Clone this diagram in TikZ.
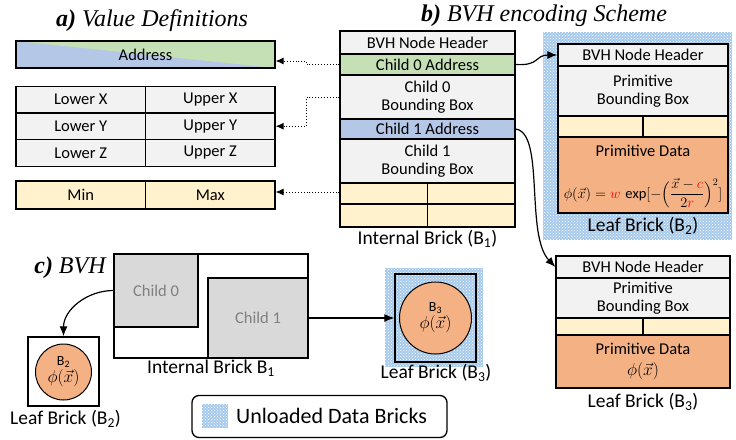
\documentclass[tikz,border=0pt]{standalone}
\usepackage{amsmath}
\usepackage{fontspec}
\setmainfont{Carlito}
\newfontfamily\titlefont{Liberation Serif}
\usetikzlibrary{patterns,arrows.meta}
\definecolor{cgray}{HTML}{F2F2F2}
\definecolor{cgreen}{HTML}{C5E0B4}
\definecolor{cblue}{HTML}{B4C7E7}
\definecolor{cyellow}{HTML}{FFF2CC}
\definecolor{corange}{HTML}{F4B183}
\definecolor{cdark}{HTML}{D9D9D9}
\definecolor{chatch}{HTML}{A7CAEC}
\begin{document}
\begin{tikzpicture}[x=1pt,y=-1pt,
  cell/.style={draw, line width=1.3pt, inner sep=0pt, align=center, font=\fontsize{16.5}{17.5}\selectfont},
  lbl/.style={inner sep=0pt, font=\fontsize{19.5}{20}\selectfont},
  ttl/.style={inner sep=0pt, font=\titlefont\itshape\fontsize{24}{25}\selectfont},
  hatchbg/.style={fill=chatch, postaction={pattern=crosshatch dots, pattern color=white}},
  dotarrow/.style={dotted, line width=0.9pt, -{Latex[length=8pt,width=7pt]}},
  solarrow/.style={line width=1.2pt, -{Latex[length=10pt,width=8pt]}},
  circ/.style={circle, draw, line width=1pt, fill=corange, inner sep=0pt, align=center}
]
\useasboundingbox (0,0) rectangle (736,439);

% ---------- titles
\node[ttl] (ta) at (152,21) {\textbf{a)} Value Definitions};
\node[ttl] (tb) at (544,16) {\textbf{b)} BVH encoding Scheme};
\node[ttl] (tc) at (70,268) {\textbf{c)} BVH};

% ---------- a) value definitions
\fill[cblue] (16,41) rectangle (275,68);
\fill[cgreen] (16,41) -- (275,41) -- (275,68) -- cycle;
\node[cell, minimum width=259pt, minimum height=27pt] (addr) at (145.5,54.5) {Address};

\node[cell, fill=cgray, minimum width=129.5pt, minimum height=26.7pt] (lx) at (80.75,99.5) {Lower X};
\node[cell, fill=cgray, minimum width=129.5pt, minimum height=26.7pt] (ux) at (210.25,99.5) {Upper X};
\node[cell, fill=cgray, minimum width=129.5pt, minimum height=26.7pt] (ly) at (80.75,126.2) {Lower Y};
\node[cell, fill=cgray, minimum width=129.5pt, minimum height=26.7pt] (uy) at (210.25,126.2) {Upper Y};
\node[cell, fill=cgray, minimum width=129.5pt, minimum height=26.7pt] (lz) at (80.75,152.9) {Lower Z};
\node[cell, fill=cgray, minimum width=129.5pt, minimum height=26.7pt] (uz) at (210.25,152.9) {Upper Z};

\node[cell, fill=cyellow, minimum width=129.5pt, minimum height=28pt] (mn) at (80.75,195) {Min};
\node[cell, fill=cyellow, minimum width=129.5pt, minimum height=28pt] (mx) at (210.25,195) {Max};

% ---------- b) internal brick
\node[cell, fill=cgray, minimum width=175pt, minimum height=23pt] (ihdr) at (427.5,42.5) {BVH Node Header};
\node[cell, fill=cgreen, minimum width=175pt, minimum height=21pt] (c0a) at (427.5,64.5) {Child 0 Address};
\node[cell, fill=cgray, minimum width=175pt, minimum height=44pt] (c0bb) at (427.5,97) {Child 0\\Bounding Box};
\node[cell, fill=cblue, minimum width=175pt, minimum height=20pt] (c1a) at (427.5,129) {Child 1 Address};
\node[cell, fill=cgray, minimum width=175pt, minimum height=44pt] (c1bb) at (427.5,161) {Child 1\\Bounding Box};
\node[cell, fill=cyellow, minimum width=87.5pt, minimum height=21pt] (y1l) at (383.75,193.5) {};
\node[cell, fill=cyellow, minimum width=87.5pt, minimum height=21pt] (y1r) at (471.25,193.5) {};
\node[cell, fill=cyellow, minimum width=87.5pt, minimum height=23pt] (y2l) at (383.75,215.5) {};
\node[cell, fill=cyellow, minimum width=87.5pt, minimum height=23pt] (y2r) at (471.25,215.5) {};
\node[lbl] (libl) at (427.5,239) {Internal Brick (B\textsubscript{1})};

% ---------- b) leaf brick B2 (unloaded)
\path[hatchbg] (543,32) rectangle (732,240);
\node[cell, fill=cgray, minimum width=170pt, minimum height=22pt] (l2hdr) at (643,55) {BVH Node Header};
\node[cell, fill=cgray, minimum width=170pt, minimum height=50pt] (l2bb) at (643,91) {Primitive\\Bounding Box};
\node[cell, fill=cyellow, minimum width=85pt, minimum height=21pt] (l2yl) at (600.5,126.5) {};
\node[cell, fill=cyellow, minimum width=85pt, minimum height=21pt] (l2yr) at (685.5,126.5) {};
\node[cell, fill=corange, minimum width=170pt, minimum height=76pt] (l2pd) at (643,175) {};
\node[inner sep=0pt, font=\fontsize{16.5}{17.5}\selectfont] (l2pdt) at (643,150.5) {Primitive Data};
\node[inner sep=0pt, font=\fontsize{14.5}{16}\selectfont] (l2eq) at (643,193)
  {$\phi(\vec{x}) = {\color{red}w}\,\exp[-\Bigl(\dfrac{\vec{x}-{\color{red}c}}{2{\color{red}r}}\Bigr)^{2}]$};
\node[lbl] (l2lbl) at (643,226) {Leaf Brick (B\textsubscript{2})};

% ---------- b) leaf brick B3
\node[cell, fill=cgray, minimum width=174pt, minimum height=22pt] (l3hdr) at (643,267) {BVH Node Header};
\node[cell, fill=cgray, minimum width=174pt, minimum height=40pt] (l3bb) at (643,298) {Primitive\\Bounding Box};
\node[cell, fill=cyellow, minimum width=87pt, minimum height=17pt] (l3yl) at (599.5,326.5) {};
\node[cell, fill=cyellow, minimum width=87pt, minimum height=17pt] (l3yr) at (686.5,326.5) {};
\node[cell, fill=corange, minimum width=174pt, minimum height=53pt] (l3pd) at (643,361.5) {Primitive Data\\[3pt]\fontsize{17}{18}\selectfont$\phi(\vec{x})$};
\node[lbl] (l3lbl) at (643,402) {Leaf Brick (B\textsubscript{3})};

% ---------- arrows a) <- b)
\draw[dotarrow] (c0a.west) -- ++(-33,0) |- ([yshift=-6.5pt]addr.east);
\draw[dotarrow] (c0bb.west) -- ++(-33,0) |- (uy.east);
\draw[dotarrow] ([yshift=1.5pt]y1l.west) -- ([yshift=1.5pt]y1l.west -| mx.east);

% ---------- arrows b)
\draw[solarrow] (c0a.east) .. controls (540,66) and (535,55) .. (l2hdr.west);
\draw[solarrow] (c1a.east) .. controls (545,133) and (525,235) .. (l3hdr.west);

% ---------- c) BVH
\node[draw, line width=1.3pt, minimum width=194pt, minimum height=104pt, inner sep=0pt] (ib) at (211,306) {};
\node[cell, fill=cdark, text=black!50, minimum width=84pt, minimum height=73pt] (ch0) at (156,290.5) {Child 0};
\node[cell, fill=cdark, text=black!50, minimum width=100pt, minimum height=80pt] (ch1) at (258,318) {Child 1};
\node[lbl] (iblbl) at (211,368) {Internal Brick B\textsubscript{1}};

\node[draw, line width=1.3pt, minimum width=71pt, minimum height=69pt, inner sep=0pt] (cb2) at (63.5,371.5) {};
\node[circ, minimum size=56pt] (cir2) at (63.5,372) {\fontsize{14}{16}\selectfont B\textsubscript{2}\\[1pt]\fontsize{18}{19}\selectfont$\phi(\vec{x})$};
\node[lbl] (cb2lbl) at (65.5,419) {Leaf Brick (B\textsubscript{2})};

\path[hatchbg] (385,268) rectangle (483,367);
\node[draw, line width=1.3pt, minimum width=81pt, minimum height=88pt, inner sep=0pt] (cb3) at (435.5,318) {};
\node[circ, minimum size=72pt] (cir3) at (435.5,318) {\fontsize{14}{16}\selectfont B\textsubscript{3}\\[1pt]\fontsize{18}{19}\selectfont$\phi(\vec{x})$};
\node[lbl] (cb3lbl) at (436,373) {Leaf Brick (B\textsubscript{3})};

\draw[solarrow] (ch0.west) to[out=180,in=90] (cb2.north);
\draw[solarrow] (ch1.east) -- (cb3.west);

% ---------- legend
\node[draw, line width=1.3pt, rounded corners=7pt, minimum width=255pt, minimum height=42pt, inner sep=0pt] (leg) at (319.5,416.5) {};
\path[hatchbg] (202,404) rectangle (228,428);
\node[anchor=west, inner sep=0pt, font=\fontsize{22}{24}\selectfont] (legt) at (236,416) {Unloaded Data Bricks};
\end{tikzpicture}
\end{document}
